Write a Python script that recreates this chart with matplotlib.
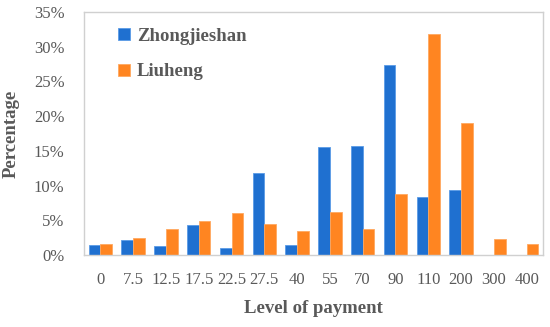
import matplotlib.pyplot as plt
import numpy as np

categories = ["0", "7.5", "12.5", "17.5", "22.5", "27.5", "40", "55", "70",
              "90", "110", "200", "300", "400"]
zhongjieshan = [1.5, 2.2, 1.25, 4.3, 1.05, 11.8, 1.5, 15.6, 15.75, 27.4,
                8.3, 9.4, 0.0, 0.0]
liuheng = [1.6, 2.45, 3.7, 4.9, 6.0, 4.5, 3.4, 6.25, 3.7, 8.75, 31.9,
           19.0, 2.25, 1.6]

GRAY = "#595959"
plt.rcParams["font.family"] = ["Liberation Serif"]

fig = plt.figure(figsize=(5.5, 3.27), dpi=100)
ax = fig.add_axes([84 / 550, 1 - 255 / 327, 459 / 550, 243 / 327])

x = np.arange(len(categories))
w = 0.357
ax.bar(x - w / 2, zhongjieshan, w, color="#1F70D0", edgecolor="#5A9BE6",
       linewidth=0.6, label="Zhongjieshan")
ax.bar(x + w / 2, liuheng, w, color="#FF8521", edgecolor="#FFA860",
       linewidth=0.6, label="Liuheng")

ax.set_xlim(-0.5, len(categories) - 0.5)
ax.set_ylim(0, 35)
ax.set_yticks(range(0, 36, 5))
ax.set_yticklabels([f"{v}%" for v in range(0, 36, 5)])
ax.set_xticks(x)
ax.set_xticklabels(categories)
ax.tick_params(length=0, labelsize=12, colors=GRAY)
ax.tick_params(axis="x", pad=12)
ax.tick_params(axis="y", pad=14)
for s in ax.spines.values():
    s.set_color("#D0D0D0")
    s.set_linewidth(1.0)

ax.set_xlabel("Level of payment", fontsize=13.5, fontweight="bold",
              color=GRAY, labelpad=9)
ax.set_ylabel("Percentage", fontsize=13.5, fontweight="bold", color=GRAY,
              labelpad=10)

leg = ax.legend(loc="upper left", bbox_to_anchor=(0.038, 1.005), frameon=False,
                handlelength=0.6, handleheight=0.6, handletextpad=0.4,
                labelspacing=1.0, prop={"size": 13.5, "weight": "bold"})
for t in leg.get_texts():
    t.set_color(GRAY)

fig.savefig("out.png", dpi=100)
